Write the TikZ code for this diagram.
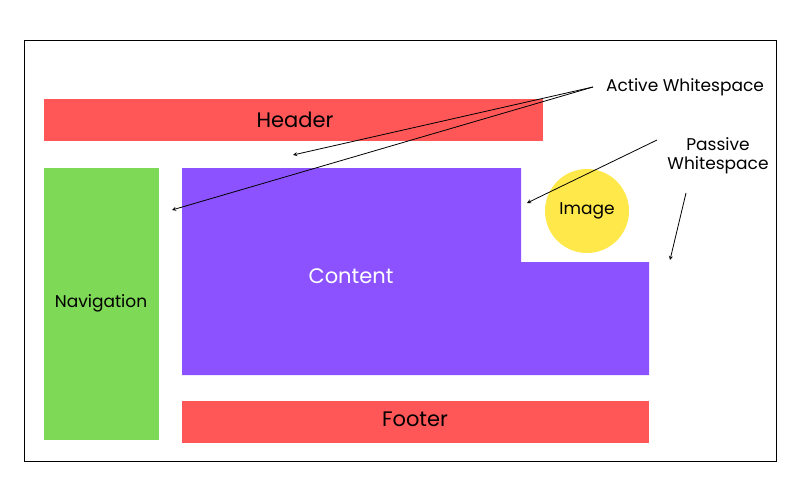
\documentclass[tikz,border=0pt]{standalone}
\usepackage{fontspec}
\setmainfont{Poppins}
\definecolor{hred}{HTML}{FF5757}
\definecolor{ngreen}{HTML}{7ED957}
\definecolor{cpurple}{HTML}{8C52FF}
\definecolor{iyellow}{HTML}{FFE94A}
\begin{document}
\begin{tikzpicture}[x=1pt,y=-1pt,
  lbl/.style={font=\fontsize{17}{19}\selectfont,align=center},
  big/.style={font=\fontsize{21}{24}\selectfont},
  arr/.style={-stealth,thick,black}]
\useasboundingbox (0,0) rectangle (800,500);
\draw[thick] (24,40) rectangle (776,461);
\fill[hred] (44,99) rectangle (543,141);
\node[big] (header) at (295,120) {Header};
\fill[ngreen] (44,168) rectangle (159,440);
\node[font=\fontsize{17}{19}\selectfont] (nav) at (101,303) {Navigation};
\fill[cpurple] (182,168) -- (521,168) -- (521,262) -- (649,262) -- (649,375) -- (182,375) -- cycle;
\node[big,white] (content) at (351,276) {Content};
\fill[iyellow] (587,211) circle (42);
\node[font=\fontsize{17}{19}\selectfont] (image) at (587,211) {Image};
\fill[hred] (182,401) rectangle (649,443);
\node[big] (footer) at (415,419) {Footer};
\node[lbl] (active) at (685,87) {Active Whitespace};
\node[lbl] (passive) at (718,156) {Passive\\Whitespace};
\coordinate (a1) at (293,155);
\coordinate (a2) at (172,210);
\coordinate (p1) at (527,203);
\coordinate (p2) at (670,260);
\coordinate (as) at (593,87);
\draw[arr] (as) -- (a1);
\draw[arr] (as) -- (a2);
\draw[arr] (657,140) -- (p1);
\draw[arr] (686,193) -- (p2);
\end{tikzpicture}
\end{document}
